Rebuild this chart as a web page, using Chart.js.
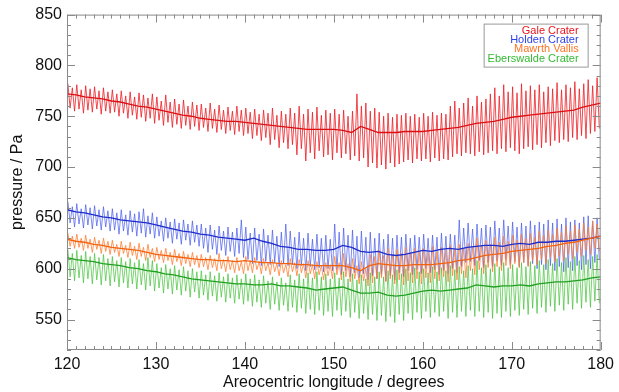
<!DOCTYPE html>
<html>
<head>
<meta charset="utf-8">
<script src="https://cdn.jsdelivr.net/npm/chart.js@4"></script>
<style>
  html, body { margin: 0; padding: 0; background: #fff; }
  #wrap { width: 619px; height: 392px; }
</style>
</head>
<body>
<div id="wrap"><canvas id="pressureChart"></canvas></div>
<script>
// Areocentric longitude: one diurnal cycle every half degree, smoothed curve every degree
const lsStart = 120;
const solStep = 0.5;
const xTicks = [120, 130, 140, 150, 160, 170, 180];
const yTicks = [550, 600, 650, 700, 750, 800, 850];
const sites = ['Gale Crater', 'Holden Crater', 'Mawrth Vallis', 'Eberswalde Crater'];

// Gale Crater - daily highs / lows / smoothed
const galeHi = [
  782, 778, 781, 776, 780, 777, 779, 775, 778, 774,
  776, 772, 775, 770, 774, 769, 773, 771, 768, 772,
  769, 765, 771, 764, 767, 762, 766, 760, 764, 761,
  762, 758, 763, 757, 761, 756, 759, 755, 760, 756,
  758, 754, 757, 752, 756, 753, 758, 751, 755, 752,
  758, 753, 760, 752, 757, 754, 759, 751, 756, 753,
  757, 752, 756, 750, 755, 772, 760, 763, 755, 758,
  754, 750, 753, 749, 752, 751, 753, 750, 752, 749,
  753, 750, 754, 751, 753, 752, 760, 765, 758, 763,
  768, 760, 770, 764, 767, 772, 778, 770, 781, 774,
  779, 773, 782, 775, 780, 776, 781, 774, 779, 777,
  783, 776, 781, 778, 784, 777, 782, 786, 780, 788
];
const galeLo = [
  758, 755, 757, 753, 756, 754, 757, 752, 755, 753,
  754, 750, 753, 748, 751, 747, 749, 745, 748, 743,
  746, 741, 744, 739, 742, 738, 741, 737, 740, 736,
  739, 735, 738, 734, 737, 733, 736, 732, 735, 731,
  733, 728, 731, 726, 729, 722, 727, 719, 724, 718,
  722, 712, 718, 706, 714, 708, 716, 710, 712, 707,
  714, 709, 713, 707, 711, 706, 709, 700, 704, 699,
  702, 698, 704, 700, 703, 705, 707, 704, 708, 706,
  708, 705, 709, 706, 708, 707, 710, 713, 711, 714,
  713, 711, 715, 712, 714, 716, 713, 718, 715, 719,
  716, 713, 718, 720, 717, 722, 719, 724, 721, 726,
  724, 727, 725, 729, 727, 731, 728, 733, 735, 738
];
const galeMean = [
  772, 771, 769, 768, 767, 765, 764, 762, 760, 759,
  757, 755, 753, 751, 750, 748, 747, 746, 745, 745,
  744, 743, 742, 741, 740, 739, 738, 737, 737, 737,
  737, 736, 734, 740, 737, 734, 734, 734, 735, 735,
  735, 736, 737, 738, 739, 741, 743, 744, 745, 747,
  749, 750, 751, 752, 753, 754, 755, 756, 759, 761,
  763
];

// Holden Crater
const holdenHi = [
  666, 661, 664, 659, 663, 660, 662, 658, 661, 657,
  659, 655, 658, 653, 657, 654, 656, 659, 652, 655,
  651, 647, 650, 646, 649, 645, 648, 644, 647, 643,
  644, 640, 643, 638, 642, 637, 641, 636, 640, 648,
  641, 635, 640, 634, 639, 633, 638, 632, 636, 644,
  637, 631, 636, 630, 635, 629, 634, 630, 633, 629,
  644, 636, 640, 633, 638, 632, 637, 631, 636, 630,
  635, 629, 634, 630, 633, 631, 634, 630, 633, 631,
  634, 630, 633, 631, 635, 632, 634, 633, 648, 640,
  645, 639, 644, 640, 643, 641, 647, 640, 648, 642,
  646, 641, 645, 642, 647, 643, 646, 644, 648, 645,
  649, 644, 650, 646, 648, 645, 651, 652, 647, 650
];
const holdenLo = [
  645, 641, 644, 640, 643, 639, 642, 638, 641, 637,
  638, 634, 637, 633, 636, 632, 635, 631, 634, 630,
  632, 627, 630, 625, 629, 624, 628, 623, 626, 622,
  620, 616, 619, 614, 618, 613, 617, 612, 615, 611,
  609, 605, 608, 603, 607, 604, 606, 602, 605, 603,
  604, 600, 603, 598, 602, 599, 601, 597, 600, 598,
  599, 594, 598, 592, 596, 591, 595, 589, 593, 590,
  594, 588, 593, 589, 596, 592, 598, 594, 599, 595,
  600, 596, 599, 594, 598, 595, 600, 596, 602, 606,
  607, 603, 608, 601, 606, 602, 608, 603, 609, 604,
  607, 602, 606, 603, 605, 600, 604, 599, 603, 598,
  602, 597, 601, 598, 603, 599, 604, 600, 606, 609
];
const holdenMean = [
  658, 656, 655, 653, 651, 650, 648, 647, 646, 645,
  643, 641, 639, 637, 636, 634, 633, 631, 630, 629,
  628, 630, 627, 625, 622, 621, 619, 619, 618, 618,
  619, 623, 621, 617, 616, 617, 614, 613, 614, 616,
  618, 617, 619, 620, 619, 621, 622, 623, 623, 622,
  624, 625, 624, 626, 626, 627, 627, 628, 629, 630,
  632
];

// Mawrth Vallis
const mawrthHi = [
  635, 632, 634, 630, 633, 629, 631, 628, 630, 627,
  628, 624, 627, 623, 626, 622, 625, 621, 624, 620,
  621, 618, 620, 616, 619, 615, 617, 614, 616, 613,
  614, 611, 613, 610, 615, 609, 612, 608, 611, 607,
  612, 608, 611, 607, 610, 606, 609, 605, 608, 604,
  610, 606, 609, 605, 608, 604, 607, 603, 606, 604,
  612, 606, 615, 605, 610, 603, 607, 600, 614, 612,
  618, 613, 620, 614, 619, 615, 621, 616, 620, 617,
  620, 616, 622, 617, 621, 618, 623, 619, 624, 620,
  625, 621, 630, 623, 628, 624, 631, 626, 632, 627,
  633, 628, 634, 630, 635, 631, 637, 633, 638, 634,
  640, 636, 642, 637, 643, 639, 645, 641, 647, 644
];
const mawrthLo = [
  622, 620, 621, 618, 620, 616, 619, 615, 617, 614,
  616, 612, 615, 611, 613, 609, 612, 608, 611, 607,
  609, 606, 608, 604, 607, 603, 605, 602, 604, 601,
  602, 599, 601, 598, 600, 597, 599, 596, 598, 595,
  598, 596, 599, 595, 598, 594, 597, 593, 596, 592,
  597, 593, 596, 591, 595, 590, 594, 589, 593, 590,
  594, 589, 592, 587, 590, 585, 588, 583, 586, 590,
  591, 587, 590, 585, 589, 584, 588, 586, 590, 585,
  591, 586, 590, 588, 592, 587, 593, 589, 595, 591,
  598, 594, 599, 595, 601, 597, 602, 598, 603, 600,
  605, 601, 606, 602, 608, 604, 609, 605, 611, 607,
  612, 608, 614, 610, 616, 612, 618, 614, 620, 617
];
const mawrthMean = [
  629, 627, 626, 624, 623, 621, 620, 619, 618, 616,
  614, 613, 612, 611, 610, 609, 609, 608, 608, 607,
  608, 607, 606, 606, 605, 605, 604, 604, 603, 603,
  603, 603, 601, 598, 603, 605, 604, 603, 603, 604,
  604, 604, 605, 606, 608, 609, 611, 613, 614, 615,
  617, 618, 619, 620, 622, 623, 625, 626, 628, 630,
  632
];

// Eberswalde Crater
const eberswaldeHi = [
  619, 615, 618, 613, 617, 612, 615, 611, 614, 610,
  612, 608, 611, 607, 610, 606, 609, 605, 611, 608,
  605, 601, 604, 600, 603, 599, 602, 598, 600, 597,
  598, 594, 597, 593, 596, 592, 595, 591, 594, 590,
  595, 590, 594, 589, 593, 588, 592, 587, 591, 586,
  594, 589, 595, 590, 596, 591, 597, 592, 595, 590,
  596, 591, 597, 590, 595, 589, 594, 590, 596, 592,
  597, 592, 598, 594, 599, 595, 600, 596, 601, 597,
  600, 596, 602, 597, 601, 598, 603, 599, 602, 598,
  603, 600, 608, 601, 604, 600, 605, 602, 606, 601,
  604, 601, 606, 602, 607, 603, 608, 604, 609, 605,
  610, 606, 611, 607, 612, 608, 613, 609, 612, 614
];
const eberswaldeLo = [
  592, 588, 591, 586, 590, 585, 589, 584, 588, 583,
  587, 582, 586, 581, 585, 580, 584, 579, 583, 578,
  581, 576, 580, 575, 579, 574, 578, 572, 577, 571,
  574, 569, 573, 568, 572, 567, 571, 566, 570, 565,
  568, 563, 567, 562, 566, 560, 565, 559, 564, 558,
  562, 557, 561, 556, 560, 555, 559, 554, 558, 553,
  559, 554, 558, 552, 557, 551, 556, 550, 555, 549,
  554, 548, 553, 547, 555, 549, 556, 550, 557, 551,
  558, 552, 557, 553, 558, 551, 557, 552, 558, 553,
  559, 553, 558, 552, 557, 551, 556, 552, 558, 553,
  559, 554, 560, 555, 561, 556, 562, 557, 563, 558,
  564, 559, 565, 560, 566, 561, 567, 562, 568, 566
];
const eberswaldeMean = [
  611, 609, 608, 607, 605, 604, 603, 601, 600, 598,
  597, 595, 594, 592, 590, 589, 588, 587, 586, 585,
  585, 584, 584, 585, 583, 583, 582, 581, 579, 580,
  581, 582, 579, 576, 576, 577, 574, 573, 574, 576,
  578, 579, 578, 579, 580, 581, 584, 583, 582, 583,
  583, 584, 583, 585, 586, 587, 587, 588, 589, 591,
  592
];

const siteColors = ['#e8141c', '#2f3fe6', '#ff7424', '#33bb33'];
const rawColors = ['rgba(236,30,36,0.8)', 'rgba(70,90,235,0.7)', 'rgba(255,125,50,0.78)', 'rgba(70,195,60,0.72)'];
const meanColors = ['#dc0e12', '#1e2ccc', '#f2620e', '#20a020'];

// zigzag each sol between its high and its low
function diurnal(hi, lo) {
  const pts = [];
  hi.forEach((h, i) => {
    const ls = lsStart + solStep * i;
    pts.push({ x: ls + 0.1, y: h });
    pts.push({ x: ls + 0.35, y: lo[i] });
  });
  return pts;
}
function smooth(vals) {
  return vals.map((v, i) => ({ x: lsStart + i, y: v }));
}

const rawSets = [[galeHi, galeLo], [holdenHi, holdenLo], [mawrthHi, mawrthLo], [eberswaldeHi, eberswaldeLo]];
const meanSets = [galeMean, holdenMean, mawrthMean, eberswaldeMean];
// higher order is drawn first (underneath)
const rawOrder = [2, 8, 6, 7];
const meanOrder = [1, 5, 4, 3];

const datasets = [];
sites.forEach((name, k) => {
  datasets.push({
    label: name,
    data: diurnal(rawSets[k][0], rawSets[k][1]),
    borderColor: rawColors[k],
    borderWidth: 1,
    pointRadius: 0,
    order: rawOrder[k]
  });
  datasets.push({
    label: name + ' smoothed',
    data: smooth(meanSets[k]),
    borderColor: meanColors[k],
    borderWidth: 1.3,
    pointRadius: 0,
    order: meanOrder[k]
  });
});

// IDL-style box with inward ticks plus the text legend
const frameTicks = {
  id: 'frameTicks',
  afterDraw(chart) {
    const { ctx, chartArea: a, scales } = chart;
    ctx.save();
    ctx.strokeStyle = '#8a8a8a';
    ctx.lineWidth = 1;
    ctx.strokeRect(a.left + 0.5, a.top + 0.5, a.right - a.left - 1, a.bottom - a.top - 1);
    ctx.beginPath();
    for (let v = 120; v <= 180; v += 1) {
      const px = Math.round(scales.x.getPixelForValue(v)) + 0.5;
      const len = v % 10 === 0 ? 8 : 4;
      ctx.moveTo(px, a.bottom); ctx.lineTo(px, a.bottom - len);
      ctx.moveTo(px, a.top); ctx.lineTo(px, a.top + len);
    }
    for (let v = 520; v <= 850; v += 10) {
      const py = Math.round(scales.y.getPixelForValue(v)) + 0.5;
      const len = v % 50 === 0 ? 8 : 4;
      ctx.moveTo(a.left, py); ctx.lineTo(a.left + len, py);
      ctx.moveTo(a.right, py); ctx.lineTo(a.right - len, py);
    }
    ctx.stroke();

    // legend box
    const boxR = a.right - 13, boxT = a.top + 9, boxW = 104, boxH = 43;
    ctx.strokeStyle = '#999';
    ctx.strokeRect(boxR - boxW + 0.5, boxT + 0.5, boxW, boxH);
    ctx.font = '11px "Liberation Sans", Arial, sans-serif';
    ctx.textAlign = 'right';
    ctx.textBaseline = 'middle';
    sites.forEach((name, k) => {
      ctx.fillStyle = siteColors[k];
      ctx.fillText(name, boxR - 9, boxT + 7 + k * 9.3);
    });
    ctx.restore();
  }
};

const axisFont = { family: '"Liberation Sans", Arial, sans-serif', size: 16 };

const ctx = document.getElementById('pressureChart').getContext('2d');
const pressureChart = new Chart(ctx, {
  type: 'line',
  data: { datasets: datasets },
  options: {
    responsive: true,
    maintainAspectRatio: false,
    animation: false,
    events: [],
    layout: { padding: { top: 7, right: 17, left: 0, bottom: 0 } },
    plugins: { legend: { display: false }, tooltip: { enabled: false } },
    elements: { line: { tension: 0 } },
    scales: {
      x: {
        type: 'linear',
        min: 120,
        max: 180,
        afterFit(scale) { scale.height = 42; },
        afterBuildTicks(scale) { scale.ticks = xTicks.map(v => ({ value: v })); },
        grid: { display: false, drawTicks: false },
        border: { display: false },
        ticks: { color: '#111', font: axisFont, padding: 5, maxRotation: 0, autoSkip: false },
        title: { display: true, text: 'Areocentric longitude / degrees', color: '#111', font: axisFont, padding: { top: 0, bottom: 0 } }
      },
      y: {
        min: 520,
        max: 850,
        afterFit(scale) { scale.width = 67; },
        afterBuildTicks(scale) { scale.ticks = yTicks.map(v => ({ value: v })); },
        grid: { display: false, drawTicks: false },
        border: { display: false },
        ticks: { color: '#111', font: axisFont, padding: 5 },
        title: { display: true, text: 'pressure / Pa', color: '#111', font: axisFont, padding: { top: 8, bottom: 0 } }
      }
    }
  },
  plugins: [frameTicks]
});
</script>
</body>
</html>
